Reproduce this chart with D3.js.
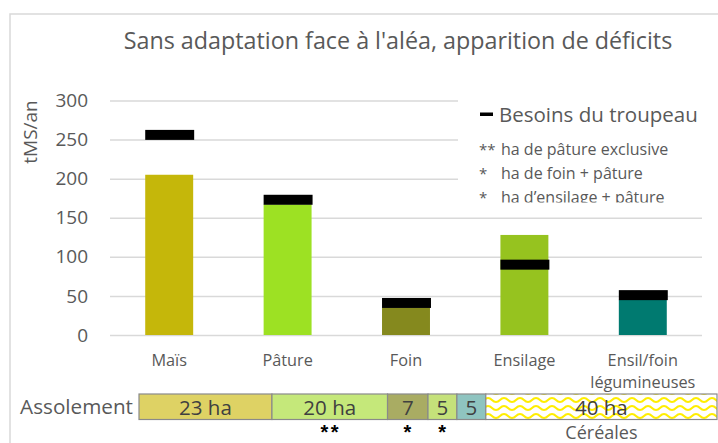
<!DOCTYPE html>
<html>
<head>
<meta charset="utf-8">
<script src="https://cdn.jsdelivr.net/npm/d3@7"></script>
<style>
  body { margin: 0; background: #fff; }
  svg { font-family: "Open Sans", sans-serif; }
</style>
</head>
<body>
<svg id="chart" width="718" height="443"></svg>
<script>
// données
const categories = ["Maïs", "Pâture", "Foin", "Ensilage", "Ensil/foin|légumineuses"]
const production = [205, 167, 35, 128, 45]
const besoins = [256, 173, 41, 90, 51]
const barColors = ["#c5b70a", "#9de123", "#85891e", "#96c31f", "#007a70"]
const yTicks = [0, 50, 100, 150, 200, 250, 300]

const assolementHa = [23, 20, 7, 5, 5, 40]
const assolementLabels = ["23 ha", "20 ha", "7", "5", "5", "40 ha"]
const assolementMarks = ["", "**", "*", "*", "", ""]
const assolementColors = ["#ded264", "#c5e87a", "#a9ac63", "#c5e17a", "#8fc4c0", "url(#zigzag)"]

const notes = [
  ["**", "ha de pâture exclusive"],
  ["*", "ha de foin + pâture"],
  ["*", "ha d\u2019ensilage + pâture"]
]

const textColor = "#595959"
const svg = d3.select("#chart")

// cadre du graphique
svg.append("rect")
   .attr("x", 10).attr("y", 14)
   .attr("width", 760).attr("height", 460)
   .attr("fill", "none")
   .attr("stroke", "#d9d9d9")
   .attr("stroke-width", 1.5)

svg.append("text")
   .attr("x", 398).attr("y", 49)
   .attr("text-anchor", "middle")
   .attr("font-size", 23.3)
   .attr("fill", textColor)
   .text("Sans adaptation face à l'aléa, apparition de déficits")

var x = d3.scaleBand()
          .domain(categories)
          .range([110, 702])
          .paddingInner(0.595)
          .paddingOuter(0.2975)

var y = d3.scaleLinear()
          .domain([0, 300])
          .range([335, 100.5])

// grille + graduations
var yAxis = svg.append("g")
               .attr("transform", "translate(110,0)")
               .call(d3.axisLeft(y).tickValues(yTicks).tickSize(-592).tickPadding(22))

yAxis.select(".domain").remove()
yAxis.selectAll(".tick line").attr("stroke", "#d9d9d9").attr("stroke-width", 1.5)
yAxis.selectAll(".tick text")
     .attr("font-size", 19)
     .attr("font-family", "Open Sans, sans-serif")
     .attr("fill", textColor)

svg.append("text")
   .attr("transform", "translate(37,132) rotate(-90)")
   .attr("text-anchor", "middle")
   .attr("font-size", 19)
   .attr("fill", textColor)
   .text("tMS/an")

// barres de production
svg.selectAll(".bar")
   .data(categories)
   .enter()
   .append("rect")
   .attr("class", "bar")
   .attr("x", d => x(d))
   .attr("width", x.bandwidth())
   .attr("y", (d, i) => y(production[i]))
   .attr("height", (d, i) => y(0) - y(production[i]))
   .attr("fill", (d, i) => barColors[i])

// besoins du troupeau
svg.selectAll(".besoin")
   .data(categories)
   .enter()
   .append("rect")
   .attr("class", "besoin")
   .attr("x", d => x(d))
   .attr("width", x.bandwidth() + 1)
   .attr("y", (d, i) => y(besoins[i]) - 5)
   .attr("height", 10)
   .attr("fill", "#000")

// libellés des catégories
categories.forEach(function (c) {
  var t = svg.append("text")
             .attr("text-anchor", "middle")
             .attr("font-size", 16.3)
             .attr("fill", textColor)
  c.split("|").forEach(function (line, j) {
    t.append("tspan")
     .attr("x", x(c) + x.bandwidth() / 2)
     .attr("y", 366 + j * 22)
     .text(line)
  })
})

// légende (boîte blanche qui coupe la grille)
var defs = svg.append("defs")
defs.append("clipPath").attr("id", "legendClip")
    .append("rect")
    .attr("x", 458).attr("y", 88).attr("width", 260).attr("height", 114.5)

var pattern = defs.append("pattern")
                  .attr("id", "zigzag")
                  .attr("patternUnits", "userSpaceOnUse")
                  .attr("width", 16).attr("height", 8)
                  .attr("y", 396)
pattern.append("rect").attr("width", 16).attr("height", 8).attr("fill", "#fff")
pattern.append("path")
       .attr("d", "M0 6 C4 6, 4 2, 8 2 C12 2, 12 6, 16 6")
       .attr("fill", "none")
       .attr("stroke", "#ffee00")
       .attr("stroke-width", 2)

var legend = svg.append("g").attr("clip-path", "url(#legendClip)")

legend.append("rect")
      .attr("x", 458).attr("y", 88).attr("width", 260).attr("height", 114.5)
      .attr("fill", "#fff")

legend.append("rect")
      .attr("x", 480).attr("y", 112.5).attr("width", 13).attr("height", 3.5)
      .attr("fill", "#000")

legend.append("text")
      .attr("x", 499).attr("y", 121.5)
      .attr("font-size", 20.5)
      .attr("fill", textColor)
      .text("Besoins du troupeau")

notes.forEach(function (n, i) {
  legend.append("text")
        .attr("x", 479).attr("y", 155 + i * 24)
        .attr("font-size", 15)
        .attr("fill", textColor)
        .text(n[0])
  legend.append("text")
        .attr("x", 501).attr("y", 155 + i * 24)
        .attr("font-size", 16)
        .attr("fill", textColor)
        .text(n[1])
})

// assolement
var total = d3.sum(assolementHa)
var xa = d3.scaleLinear().domain([0, total]).range([139, 717])
var starts = d3.cumsum([0].concat(assolementHa.slice(0, -1)))

svg.append("text")
   .attr("x", 133).attr("y", 414)
   .attr("text-anchor", "end")
   .attr("font-size", 20.7)
   .attr("fill", textColor)
   .text("Assolement")

var seg = svg.selectAll(".seg")
             .data(assolementHa)
             .enter()
             .append("g")
             .attr("class", "seg")

seg.append("rect")
   .attr("x", (d, i) => xa(starts[i]))
   .attr("y", 394)
   .attr("width", (d, i) => xa(starts[i] + d) - xa(starts[i]))
   .attr("height", 25.5)
   .attr("fill", (d, i) => assolementColors[i])
   .attr("stroke", "#8a8a8a")
   .attr("stroke-width", 1.2)

seg.append("text")
   .attr("x", (d, i) => xa(starts[i] + d / 2))
   .attr("y", 414.5)
   .attr("text-anchor", "middle")
   .attr("font-size", 20.5)
   .attr("fill", "#404040")
   .text((d, i) => assolementLabels[i])

// astérisques sous les parcelles
seg.append("text")
   .attr("x", (d, i) => xa(starts[i] + d / 2) + 1)
   .attr("y", 438.7)
   .attr("text-anchor", "middle")
   .attr("font-family", "Liberation Sans, sans-serif")
   .attr("font-size", 20)
   .attr("font-weight", "bold")
   .attr("letter-spacing", 2.5)
   .attr("fill", "#000")
   .text((d, i) => assolementMarks[i])

svg.append("text")
   .attr("x", xa(starts[5] + assolementHa[5] / 2))
   .attr("y", 439)
   .attr("text-anchor", "middle")
   .attr("font-size", 18)
   .attr("fill", textColor)
   .text("Céréales")
</script>
</body>
</html>
